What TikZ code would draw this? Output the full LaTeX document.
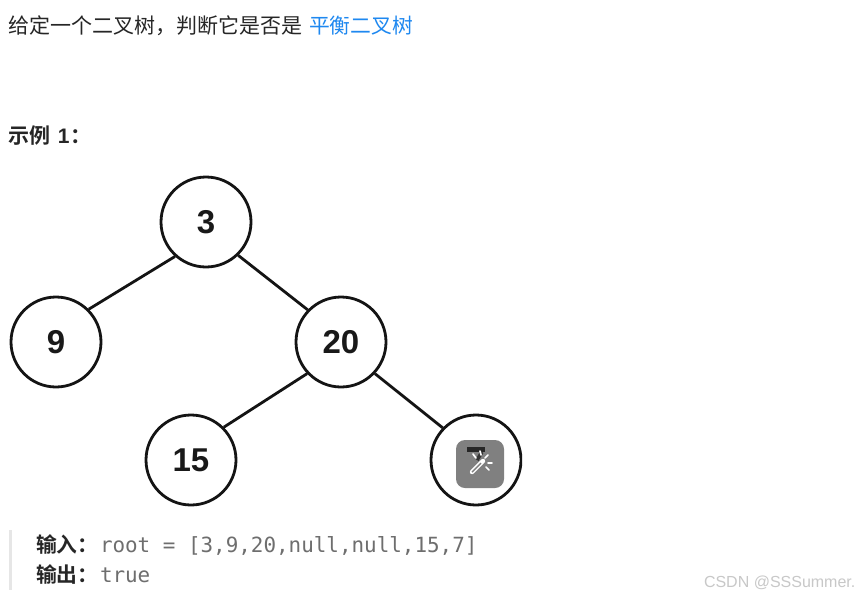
\documentclass[tikz,border=0pt]{standalone}
\usepackage{fontspec}
\setmainfont{Liberation Sans}
\newfontfamily\cjk{Noto Sans CJK SC}
\newfontfamily\cjkb{Noto Sans CJK SC Bold}
\newfontfamily\monof{DejaVu Sans Mono}
\newfontfamily\treef{Liberation Sans Bold}
\definecolor{ink}{HTML}{262626}
\definecolor{linkc}{HTML}{1E88F0}
\definecolor{graytxt}{HTML}{6E6E6E}
\definecolor{barc}{HTML}{E6E6E6}
\definecolor{wm}{HTML}{C8C8C8}
\definecolor{badge}{HTML}{808080}
\tikzset{
  tnode/.style={circle,draw=black!92,line width=2.8pt,minimum size=90pt,inner sep=0pt,fill=white,font=\treef\fontsize{33}{33}\selectfont,text=black!90},
  tedge/.style={draw=black!92,line width=2.8pt},
  txt/.style={anchor=base west,inner sep=0pt,outer sep=0pt},
  wandl/.style={draw=white,line width=1.7pt,line cap=round}
}
\begin{document}
\begin{tikzpicture}[x=1pt,y=-1pt]
\useasboundingbox (0,0) rectangle (859,595);
\fill[white] (0,0) rectangle (859,595);
\node[txt,text=ink] (t1) at (9,33) {\cjk\fontsize{21}{21}\selectfont 给定一个二叉树，判断它是否是};
\node[txt,text=linkc] (t2) at (309,33) {\cjk\fontsize{20.8}{21}\selectfont 平衡二叉树};
\node[txt,text=ink] (ex) at (9,143) {\cjkb\fontsize{21}{21}\selectfont 示例\hspace{2pt} {\treef 1}\hspace{1pt}：};
\begin{scope}
\clip (0,160) rectangle (522,506);
\node[tnode] (n3) at (206,222) {3};
\node[tnode] (n9) at (56,342) {9};
\node[tnode] (n20) at (341,342) {20};
\node[tnode] (n15) at (191,460) {15};
\node[tnode] (n7) at (476,460) {7};
\draw[tedge] (n3.228) -- (n9.45);
\draw[tedge] (n3.314) -- (n20.136);
\draw[tedge] (n20.223) -- (n15.45);
\draw[tedge] (n20.317) -- (n7.136);
\end{scope}
\fill[badge,rounded corners=9pt] (456,440) rectangle (504,488);
\fill[black!85] (467,447) rectangle (485,452);
\draw[draw=black!80,line width=3.5pt] (482,452) -- (477,460);
\draw[wandl,line width=4.4pt] (472,472) -- (483,461);
\draw[draw=badge,line width=1.4pt] (472,472) -- (481,463);
\draw[wandl] (473,454) -- (476,458);
\draw[wandl] (480,451) -- (481,455);
\draw[wandl] (488,455) -- (485,458);
\draw[wandl] (492,463) -- (488,463);
\draw[wandl] (489,470) -- (486,467);
\fill[barc] (9,530) rectangle (12,590);
\node[txt,text=ink] (inl) at (36,552) {\cjkb\fontsize{20.8}{21}\selectfont 输入：};
\node[txt,text=graytxt] (inv) at (100,552) {\monof\fontsize{20.9}{21}\selectfont root = [3,9,20,null,null,15,7]};
\node[txt,text=ink] (outl) at (36,582) {\cjkb\fontsize{20.8}{21}\selectfont 输出：};
\node[txt,text=graytxt] (outv) at (100,582) {\monof\fontsize{20.9}{21}\selectfont true};
\node[txt,text=wm] (wmk) at (704,587) {\fontsize{16}{17}\selectfont CSDN @SSSummer.};
\end{tikzpicture}
\end{document}
